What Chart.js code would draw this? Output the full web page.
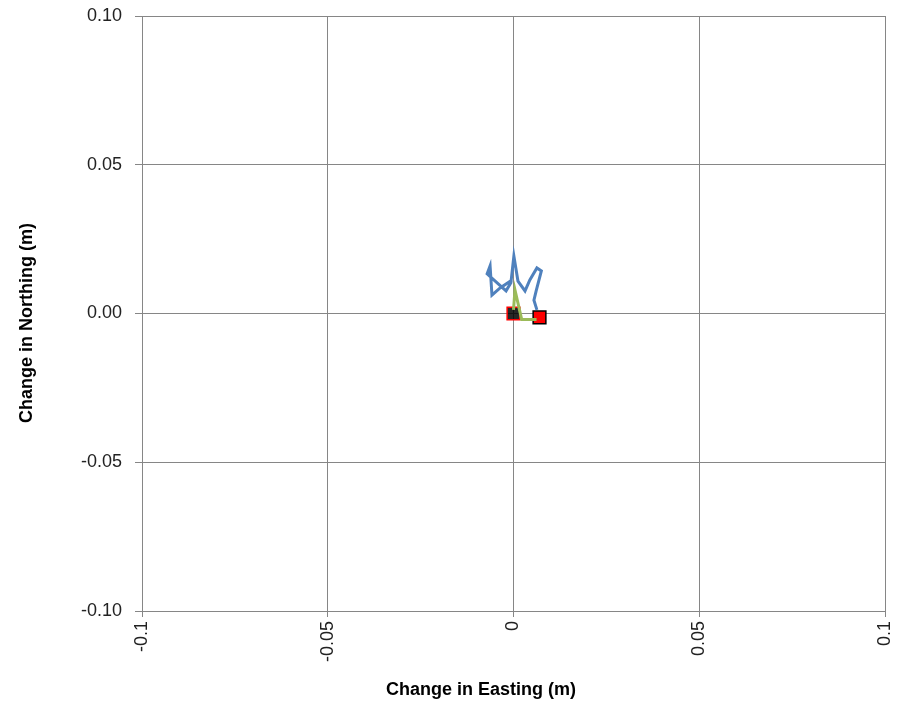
<!DOCTYPE html>
<html>
<head>
<meta charset="utf-8">
<script src="https://cdn.jsdelivr.net/npm/chart.js@4"></script>
<style>
  html, body { margin: 0; padding: 0; background: #fff; }
  #wrap { width: 910px; height: 705px; }
</style>
</head>
<body>
<div id="wrap"><canvas id="chart" width="910" height="705"></canvas></div>
<script>
// displacement track (m)
const blueEast  = [0.0063, 0.0055, 0.0061, 0.0075, 0.0063, 0.0044, 0.0031, 0.0012, 0.0001, -0.0007, -0.0020, -0.0071, -0.0063, -0.0058, -0.0036, -0.0004];
const blueNorth = [0.0012, 0.0045, 0.0076, 0.0143, 0.0153, 0.0113, 0.0076, 0.0109, 0.0193, 0.0103, 0.0076, 0.0133, 0.0160, 0.0062, 0.0086, 0.0113];
const greenEast  = [0.0000, 0.0004, 0.0022, 0.0062];
const greenNorth = [0.0012, 0.0079, -0.0020, -0.0020];
const startPt = [0.0, 0.0];
const endPt = [0.0070, -0.0013];

const xTickLabels = ['-0.1', '-0.05', '0', '0.05', '0.1'];
const yTickLabels = ['-0.10', '-0.05', '0.00', '0.05', '0.10'];
const xTitle = 'Change in Easting (m)';
const yTitle = 'Change in Northing (m)';

const toXY = (xs, ys) => xs.map((x, i) => ({ x: x, y: ys[i] }));

const gridColor = 'rgb(134, 134, 134)';
const tickFont = { family: '"Liberation Sans", Arial, sans-serif', size: 18 };

// axis titles placed where the original has them
const axisTitles = {
  id: 'axisTitles',
  afterDraw(chart) {
    const ctx = chart.ctx;
    ctx.save();
    ctx.fillStyle = '#000';
    ctx.font = 'bold 18px "Liberation Sans", Arial, sans-serif';
    ctx.textAlign = 'center';
    ctx.textBaseline = 'middle';
    ctx.fillText(xTitle, 481, 690);
    ctx.translate(27, 323);
    ctx.rotate(-Math.PI / 2);
    ctx.fillText(yTitle, 0, 0);
    ctx.restore();
  }
};

new Chart(document.getElementById('chart'), {
  type: 'scatter',
  data: {
    datasets: [
      {
        label: 'track',
        data: toXY(blueEast, blueNorth),
        showLine: true,
        borderColor: '#4F81BD',
        borderWidth: 3,
        pointRadius: 0,
        tension: 0,
      },
      {
        label: 'track2',
        data: toXY(greenEast, greenNorth),
        showLine: true,
        borderColor: '#9BBB59',
        borderWidth: 3,
        pointRadius: 0,
        tension: 0,
      },
      {
        label: 'start',
        data: [{ x: startPt[0], y: startPt[1] }],
        pointStyle: 'rect',
        pointRadius: 9,
        backgroundColor: 'rgba(0,0,0,0.85)',
        borderColor: '#FF0000',
        borderWidth: 1.5,
      },
      {
        label: 'end',
        data: [{ x: endPt[0], y: endPt[1] }],
        pointStyle: 'rect',
        pointRadius: 9,
        backgroundColor: '#FF0000',
        borderColor: '#000',
        borderWidth: 1.5,
      },
    ],
  },
  options: {
    responsive: false,
    animation: false,
    layout: { padding: { left: 0, right: 25, top: 16, bottom: 0 } },
    plugins: {
      legend: { display: false },
      tooltip: { enabled: false },
    },
    scales: {
      x: {
        type: 'linear',
        min: -0.1,
        max: 0.1,
        ticks: {
          stepSize: 0.05,
          color: '#222',
          font: tickFont,
          minRotation: 90,
          maxRotation: 90,
          padding: 4,
          callback: (v, i) => xTickLabels[i],
        },
        grid: { color: gridColor, lineWidth: 1, tickLength: 6, tickColor: gridColor },
        border: { color: gridColor, width: 1 },
        afterFit: (s) => { s.height = 705 - 611; s.paddingLeft = 0; s.paddingRight = 0; },
      },
      y: {
        type: 'linear',
        min: -0.1,
        max: 0.1,
        ticks: {
          stepSize: 0.05,
          color: '#222',
          font: tickFont,
          padding: 13,
          callback: (v, i) => yTickLabels[i],
        },
        grid: { color: gridColor, lineWidth: 1, tickLength: 7, tickColor: gridColor },
        border: { color: gridColor, width: 1 },
        afterFit: (s) => { s.width = 142; s.paddingTop = 0; s.paddingBottom = 0; },
      },
    },
  },
  plugins: [axisTitles],
});
</script>
</body>
</html>
